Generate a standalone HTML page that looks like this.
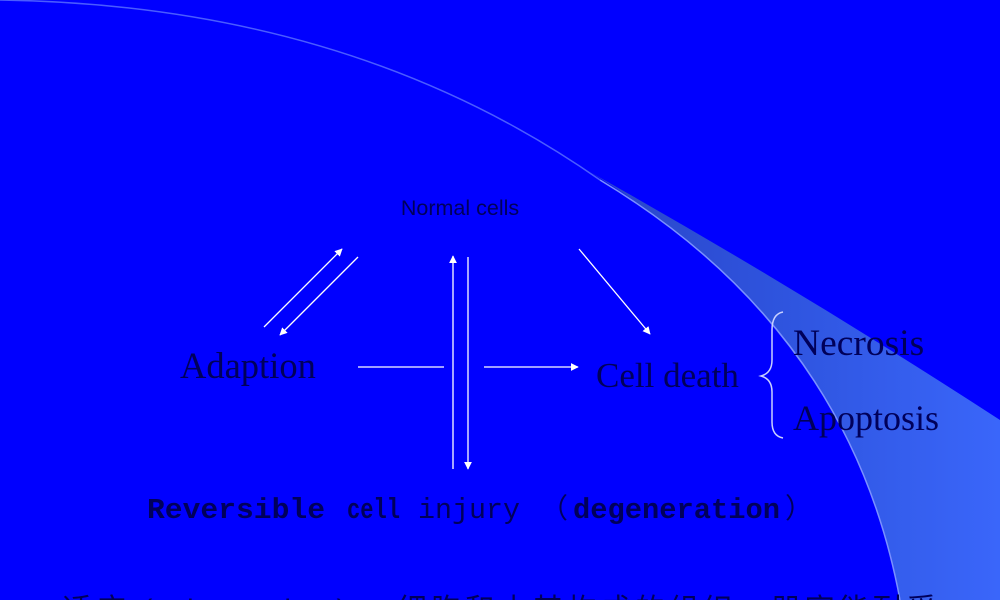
<!DOCTYPE html>
<html><head><meta charset="utf-8"><style>
body{margin:0;width:1000px;height:600px;overflow:hidden;background:#0000ff}
svg{display:block}
</style></head><body>
<svg width="1000" height="600" viewBox="0 0 1000 600" xmlns="http://www.w3.org/2000/svg">
<defs>
<linearGradient id="g" x1="0" y1="0" x2="1" y2="0">
<stop offset="0" stop-color="#2a45c8"/><stop offset="0.5" stop-color="#2f55e0"/><stop offset="1" stop-color="#3a66fa"/>
</linearGradient>
<marker id="a" viewBox="0 0 10 10" refX="9" refY="5" markerWidth="6" markerHeight="6" orient="auto"><path d="M0,0L10,5L0,10z" fill="#fff"/></marker>
</defs>
<path d="M590,172 Q800,290 1000,420 L1000,600 L900,600 Q850,330 590,172 Z" fill="url(#g)"/>
<path d="M0,0 Q350,5 600,180" fill="none" stroke="#4a5cff" stroke-width="1.5"/>
<path d="M600,180 Q850,330 900,600" fill="none" stroke="#7a90ff" stroke-width="1.5"/>
<g stroke="#fff" stroke-width="1.3" fill="none">
<line x1="264" y1="327" x2="342" y2="249" marker-end="url(#a)"/>
<line x1="358" y1="257" x2="280" y2="335" marker-end="url(#a)"/>
<line x1="453" y1="469" x2="453" y2="256" marker-end="url(#a)"/>
<line x1="468" y1="257" x2="468" y2="469" marker-end="url(#a)"/>
<line x1="358" y1="367" x2="444" y2="367"/>
<line x1="484" y1="367" x2="578" y2="367" marker-end="url(#a)"/>
<line x1="579" y1="249" x2="650" y2="334" marker-end="url(#a)"/>
<path d="M783,312 Q772,314 772,330 L772,360 Q772,373 761,376 Q772,379 772,392 L772,422 Q772,436 783,438" stroke="#c8d0ff" stroke-width="1.5"/>
</g>
<g fill="#00005a">
<text x="460" y="215" font-family="Liberation Sans, sans-serif" font-size="21.5" text-anchor="middle">Normal cells</text>
<text x="180" y="378" font-family="Liberation Serif, serif" font-size="36.5">Adaption</text>
<text x="596" y="387" font-family="Liberation Serif, serif" font-size="35">Cell death</text>
<text x="793" y="355" font-family="Liberation Serif, serif" font-size="37.5">Necrosis</text>
<text x="793" y="430" font-family="Liberation Serif, serif" font-size="36">Apoptosis</text>
<g font-family="Liberation Mono, monospace" font-size="29">
<text x="147" y="518" font-weight="bold" textLength="178" lengthAdjust="spacingAndGlyphs">Reversible</text>
<text x="347" y="518" font-weight="bold" textLength="53" lengthAdjust="spacingAndGlyphs">cell</text>
<text x="418" y="518" textLength="102" lengthAdjust="spacingAndGlyphs">injury</text>
<text x="540" y="518" font-family="'Noto Sans CJK SC', sans-serif" font-size="28">（</text>
<text x="573" y="518" font-weight="bold" textLength="207" lengthAdjust="spacingAndGlyphs">degeneration</text>
<text x="785" y="518" font-family="'Noto Sans CJK SC', sans-serif" font-size="28">）</text>
</g>
<text x="62" y="620" font-family="Liberation Sans, 'Noto Sans CJK SC', sans-serif" font-size="30" letter-spacing="4">适应 (adaptation)： 细胞和由其构成的组织、器官能耐受</text>
</g>
</svg>
</body></html>
